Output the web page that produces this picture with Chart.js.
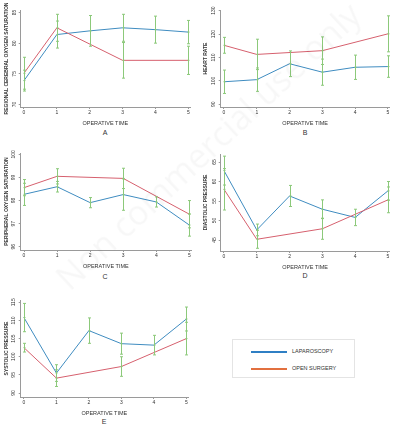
<!DOCTYPE html>
<html>
<head>
<meta charset="utf-8">
<script src="https://cdn.jsdelivr.net/npm/chart.js@4.4.1/dist/chart.umd.min.js"></script>
<style>
  body { margin: 0; background: #fff; width: 398px; height: 429px; overflow: hidden; position: relative; font-family: 'Liberation Sans Narrow', 'Liberation Sans', sans-serif; }
  canvas { position: absolute; }
  .letter { position: absolute; font-size: 7px; color: #333; transform: translate(-50%, -50%); }
  .legend { position: absolute; left: 232px; top: 339px; width: 123px; height: 39px; border: 1px solid #e4e4e4; box-sizing: border-box; }
  .legend .ln { position: absolute; left: 18px; width: 36px; height: 1.5px; }
  .legend .tx { position: absolute; left: 59px; font-size: 5.5px; color: #333; transform: translateY(-50%); }
  .wm { position: absolute; left: 10px; top: 130px; width: 380px; text-align: center; font-family: 'Open Sans', sans-serif; font-size: 34px; color: rgba(0,0,0,0.03); transform: rotate(-43deg); white-space: nowrap; }
</style>
</head>
<body>
<canvas id="cA"></canvas>
<canvas id="cB"></canvas>
<canvas id="cC"></canvas>
<canvas id="cD"></canvas>
<canvas id="cE"></canvas>

<div class="letter" style="left:105px; top:132px">A</div>
<div class="letter" style="left:305px; top:132px">B</div>
<div class="letter" style="left:105px; top:276px">C</div>
<div class="letter" style="left:305px; top:275px">D</div>
<div class="letter" style="left:104px; top:421px">E</div>

<div class="legend">
  <div class="ln" style="top:11px; background:#2f7fc4"></div>
  <div class="tx" style="top:11px">LAPAROSCOPY</div>
  <div class="ln" style="top:28px; background:#e2703f"></div>
  <div class="tx" style="top:28px">OPEN SURGERY</div>
</div>

<div class="wm">Non commercial use only</div>

<script>
const times = [0, 1, 2, 3, 4, 5];

// A - regional cerebral oxygen saturation
const lapA = [73.9, 81.4, 82.0, 82.5, 82.2, 81.8];
const openA = [75.1, 82.5, null, 77.2, null, 77.2];
const errLapA = [1.7, 2.2, 2.5, 2.2, 2.2, 1.9];
const errOpenA = [2.6, 2.2, null, 2.9, null, 2.3];

// B - heart rate
const lapB = [99.6, 100.5, 107.3, 103.7, 105.8, 106.1];
const openB = [115.2, 111.3, null, 112.9, null, 120.1];
const errLapB = [5.0, 5.0, 5.5, 5.6, 5.2, 4.6];
const errOpenB = [3.4, 6.5, null, 5.9, null, 7.7];

// C - peripheral oxygen saturation
const lapC = [98.27, 98.6, 97.91, 98.26, 97.94, 96.94];
const openC = [98.56, 99.05, null, 98.96, null, 97.41];
const errLapC = [0.48, 0.23, 0.22, 0.68, 0.22, 0.48];
const errOpenC = [0.35, 0.33, null, 0.44, null, 0.59];

// D - diastolic pressure
const lapD = [62.8, 47.6, 56.3, 52.9, 50.8, 57.6];
const openD = [58.0, 45.2, null, 47.9, null, 55.3];
const errLapD = [3.7, 1.5, 2.7, 2.4, 2.1, 2.4];
const errOpenD = [5.3, 2.3, null, 2.7, null, 3.3];

// E - systolic pressure
const lapE = [110.8, 95.5, 107.2, 103.6, 103.2, 110.4];
const openE = [102.5, 94.1, null, 97.3, null, 105.0];
const errLapE = [3.9, 2.3, 3.5, 2.9, 2.7, 3.3];
const errOpenE = [1.2, 2.3, null, 2.7, null, 4.5];

const blue = '#3f8cc0';
const red = '#d6606e';
const green = '#8cc97a';
const axisGrey = '#9a9a9a';
const fontFam = "'Liberation Sans Narrow', 'Liberation Sans', sans-serif";

// vertical error bars drawn through the chart scales
const errorBarPlugin = {
    id: 'errorBars',
    afterDatasetsDraw(chart) {
        const ctx = chart.ctx;
        const xs = chart.scales.x, ys = chart.scales.y;
        ctx.save();
        ctx.strokeStyle = green;
        ctx.lineWidth = 1;
        chart.data.datasets.forEach(ds => {
            ds.data.forEach((p, i) => {
                const e = ds.errors[i];
                if (p.y == null || e == null) return;
                const x = Math.round(xs.getPixelForValue(p.x)) + 0.5;
                const top = ys.getPixelForValue(p.y + e);
                const bot = ys.getPixelForValue(p.y - e);
                ctx.beginPath();
                ctx.moveTo(x, top); ctx.lineTo(x, bot);
                ctx.moveTo(x - 1.5, top); ctx.lineTo(x + 1.5, top);
                ctx.moveTo(x - 1.5, bot); ctx.lineTo(x + 1.5, bot);
                ctx.moveTo(x - 1, ys.getPixelForValue(p.y)); ctx.lineTo(x + 1, ys.getPixelForValue(p.y));
                ctx.stroke();
            });
        });
        ctx.restore();
    }
};

function series(vals, errs, color) {
    return {
        data: times.map((t, i) => ({ x: t, y: vals[i] })),
        errors: errs,
        borderColor: color,
        backgroundColor: color,
        borderWidth: 1,
        pointRadius: 0,
        tension: 0,
        spanGaps: true
    };
}

function makePanel(id, pos, lap, errLap, open, errOpen, yMin, yMax, yStep, yTitle) {
    const cv = document.getElementById(id);
    cv.style.left = pos.left + 'px';
    cv.style.top = pos.top + 'px';
    cv.style.width = pos.w + 'px';
    cv.style.height = pos.h + 'px';
    cv.width = pos.w; cv.height = pos.h;

    new Chart(cv,
    {
        type: 'line',
        data:
        {
            datasets:
            [
                series(open, errOpen, red),
                series(lap, errLap, blue)
            ]
        },
        options:
        {
            responsive: false,
            animation: false,
            layout: { padding: { top: 10, right: pos.padRight, bottom: 0, left: 0 } },
            scales:
            {
                x:
                {
                    type: 'linear',
                    min: -0.1,
                    max: 5.05,
                    grid: { drawOnChartArea: false, tickLength: 2, color: axisGrey },
                    border: { color: axisGrey },
                    ticks: { stepSize: 1, includeBounds: false, padding: 1, color: '#333', font: { family: fontFam, size: 5 } },
                    title: { display: true, text: 'OPERATIVE TIME', color: '#333', padding: 0, font: { family: fontFam, size: 5.5 } },
                    afterFit: s => { s.height = 20; }
                },
                y:
                {
                    min: yMin,
                    max: yMax,
                    grid: { drawOnChartArea: false, tickLength: 2, color: axisGrey },
                    border: { color: axisGrey },
                    ticks: { stepSize: yStep, includeBounds: false, padding: 1, minRotation: 90, maxRotation: 90, crossAlign: 'center', color: '#333', font: { family: fontFam, size: 5 } },
                    title: { display: true, text: yTitle, color: '#333', padding: { top: 4, bottom: 0 }, font: { family: fontFam, size: 5, weight: 'bold' } },
                    afterFit: s => { s.width = pos.axisW; }
                }
            },
            plugins:
            {
                legend: { display: false },
                tooltip: { enabled: false }
            }
        },
        plugins: [errorBarPlugin]
    });
}

makePanel('cA', { left: 0, top: 0, w: 196, h: 127, axisW: 20.7, padRight: 6 }, lapA, errLapA, openA, errOpenA, 69.6, 85.4, 5, 'REGIONAL CEREBRAL OXYGEN SATURATION');
makePanel('cB', { left: 199, top: 0, w: 196, h: 127, axisW: 21.7, padRight: 5.4 }, lapB, errLapB, openB, errOpenB, 88.8, 130.3, 10, 'HEART RATE');
makePanel('cC', { left: 0, top: 142.7, w: 196, h: 127.3, axisW: 20.7, padRight: 5 }, lapC, errLapC, openC, errOpenC, 95.86, 100.06, 1, 'PERIPHERAL OXYGEN SATURATION');
makePanel('cD', { left: 199, top: 144, w: 196, h: 127, axisW: 21.7, padRight: 5.4 }, lapD, errLapD, openD, errOpenD, 42.2, 67.05, 5, 'DIASTOLIC PRESSURE');
makePanel('cE', { left: 0, top: 290, w: 196, h: 127.3, axisW: 20.7, padRight: 8 }, lapE, errLapE, openE, errOpenE, 88.9, 115.64, 5, 'SYSTOLIC PRESSURE');
</script>
</body>
</html>
